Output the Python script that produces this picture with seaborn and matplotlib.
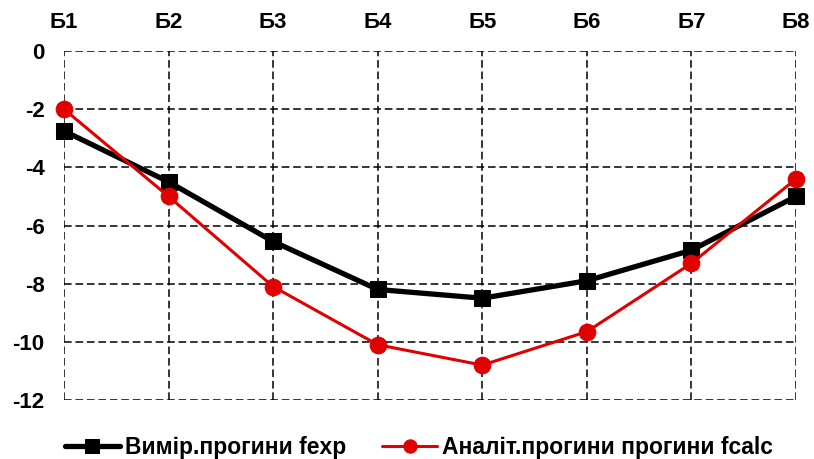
import numpy as np
import pandas as pd
import matplotlib
matplotlib.use("Agg")
import matplotlib.pyplot as plt
import seaborn as sns

# Data
categories = ["Б1", "Б2", "Б3", "Б4", "Б5", "Б6", "Б7", "Б8"]
f_exp = [-2.75, -4.5, -6.55, -8.2, -8.5, -7.9, -6.85, -5.0]
f_calc = [-2.0, -5.0, -8.1, -10.1, -10.8, -9.65, -7.3, -4.4]
label_exp = "Вимір.прогини fexp"
label_calc = "Аналіт.прогини прогини fcalc"
y_ticks = [0, -2, -4, -6, -8, -10, -12]

sns.set_theme(style="white")
plt.rcParams["font.family"] = ["Liberation Sans", "DejaVu Sans"]
plt.rcParams["font.weight"] = "bold"
plt.rcParams["axes.unicode_minus"] = False
plt.rcParams["text.color"] = "black"

pos = np.arange(len(categories))
df = pd.DataFrame({"pos": pos, "exp": f_exp, "calc": f_calc})

fig = plt.figure(figsize=(8.14, 4.59), dpi=100)
ax = fig.add_axes([64 / 814, 1 - 400 / 459, (796 - 64) / 814, (400 - 51) / 459])

sns.lineplot(data=df, x="pos", y="exp", ax=ax, color="black", linewidth=3.8,
             marker="s", markersize=12, markeredgecolor="black",
             label=label_exp, clip_on=False, zorder=3)
sns.lineplot(data=df, x="pos", y="calc", ax=ax, color="#e00000", linewidth=2.2,
             marker="o", markersize=12, markeredgecolor="#e00000",
             label=label_calc, clip_on=False, zorder=4)

ax.set_xlim(0, len(categories) - 1)
ax.set_ylim(-12, 0)
ax.set_xticks(pos)
ax.set_xticklabels(categories)
ax.set_yticks(y_ticks)
ax.xaxis.tick_top()
ax.tick_params(axis="both", length=0, labelsize=16, colors="black")
ax.tick_params(axis="x", pad=13)
ax.tick_params(axis="y", pad=14)
for lbl in ax.get_xticklabels() + ax.get_yticklabels():
    lbl.set_fontweight("bold")
ax.set_xlabel("")
ax.set_ylabel("")

ax.grid(True, color="black", linestyle=(0, (5, 2.5)), linewidth=1.1)
for s in ax.spines.values():
    s.set_visible(False)

leg = ax.legend(loc="center", bbox_to_anchor=(0.485, -0.135), ncol=2, frameon=False,
                prop={"weight": "bold", "size": 16.5}, handlelength=2.4,
                columnspacing=1.6, handletextpad=0.2, markerscale=0.8)
for t in leg.get_texts():
    t.set_color("black")

fig.savefig("out.png", dpi=100)
